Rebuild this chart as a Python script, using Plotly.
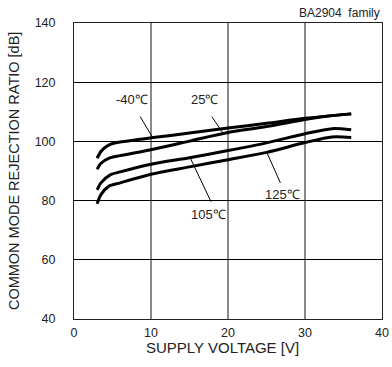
import plotly.graph_objects as go

# ---- data ----
x_m40 = [3.0, 3.5, 4.2, 5.0, 6.0, 10, 15, 20, 25, 30, 36]
y_m40 = [94.3, 96.6, 98.3, 99.3, 99.8, 101.2, 102.8, 104.5, 106.1, 107.8, 109.3]

x_25 = [3.0, 3.5, 4.5, 6.0, 10, 15, 20, 25, 30, 32.5, 36]
y_25 = [90.6, 92.6, 94.3, 95.2, 97.2, 100.1, 103.0, 105.0, 107.4, 108.4, 109.3]

x_105 = [3.0, 3.5, 4.7, 6.0, 10, 15, 20, 25, 30, 33.5, 36]
y_105 = [83.6, 86.0, 88.7, 89.7, 92.3, 94.5, 96.9, 99.5, 102.6, 104.3, 103.9]

x_125 = [3.0, 3.5, 4.5, 6.0, 10, 15, 20, 25, 30, 33.5, 36]
y_125 = [78.9, 82.0, 84.8, 86.0, 88.9, 91.4, 93.8, 96.3, 99.6, 101.5, 101.3]

labels = ["-40\u2103", "25\u2103", "105\u2103", "125\u2103"]
label_x = [7.5, 16.9, 17.45, 27.05]
label_y = [114.0, 114.0, 75.4, 82.0]
leader_x0 = [8.6, 17.9, 17.8, 26.8]
leader_y0 = [108.35, 108.35, 79.6, 86.0]
leader_x1 = [10.1, 19.5, 15.1, 25.0]
leader_y1 = [101.8, 102.2, 94.4, 96.5]

x_ticks = [0, 10, 20, 30, 40]
y_ticks = [40, 60, 80, 100, 120, 140]

FONT = "Liberation Sans, Arial, sans-serif"
TXT = "#222"

fig = go.Figure()

for xv in x_ticks[1:-1]:
    fig.add_shape(type="line", xref="x", yref="y", x0=xv, x1=xv, y0=y_ticks[0], y1=y_ticks[-1],
                  line=dict(color="#8a8a8a", width=2), layer="below")

for xs, ys in [(x_m40, y_m40), (x_25, y_25), (x_105, y_105), (x_125, y_125)]:
    fig.add_trace(go.Scatter(x=xs, y=ys, mode="lines",
                             line=dict(color="black", width=3, shape="spline", smoothing=0.8),
                             hoverinfo="skip"))

for i in range(len(labels)):
    fig.add_shape(type="line", xref="x", yref="y",
                  x0=leader_x0[i], y0=leader_y0[i], x1=leader_x1[i], y1=leader_y1[i],
                  line=dict(color="black", width=1))
    fig.add_annotation(x=label_x[i], y=label_y[i], xref="x", yref="y", text=labels[i],
                       showarrow=False, font=dict(family=FONT, size=13, color=TXT))

fig.add_annotation(x=1.0, y=1.034, xref="paper", yref="paper", xanchor="right", yanchor="middle",
                   text="BA2904\u00a0 family", showarrow=False,
                   font=dict(family=FONT, size=12, color=TXT))

# axis titles as annotations for exact placement
fig.add_annotation(x=0.483, y=-0.0946, xref="paper", yref="paper", xanchor="center", yanchor="middle",
                   text="SUPPLY VOLTAGE [V]", showarrow=False,
                   font=dict(family=FONT, size=15, color=TXT))
fig.add_annotation(x=-0.1945, y=0.5, xref="paper", yref="paper", xanchor="center", yanchor="middle",
                   text="COMMON MODE REJECTION RATIO [dB]", textangle=-90, showarrow=False,
                   font=dict(family=FONT, size=14.5, color=TXT))

fig.update_xaxes(range=[0, 40], tickvals=x_ticks, showgrid=False, zeroline=False, automargin=False,
                 showline=True, mirror=True, linecolor="#222", linewidth=1,
                 ticks="", ticklabelstandoff=2, tickfont=dict(family=FONT, size=12.5, color=TXT))
fig.update_yaxes(range=[40, 140], tickvals=y_ticks, showgrid=True, gridcolor="black", gridwidth=1,
                 zeroline=False, showline=True, mirror=True, linecolor="#222", linewidth=1, automargin=False,
                 ticks="", ticklabelstandoff=15, tickfont=dict(family=FONT, size=12.5, color=TXT))

fig.update_layout(width=392, height=367, margin=dict(l=73.5, r=9.5, t=23, b=48),
                  plot_bgcolor="white", paper_bgcolor="white", showlegend=False)

fig.write_html("out.html", config={"displayModeBar": False, "staticPlot": True},
               post_script="document.body.style.margin='0';document.body.style.overflow='hidden';")
